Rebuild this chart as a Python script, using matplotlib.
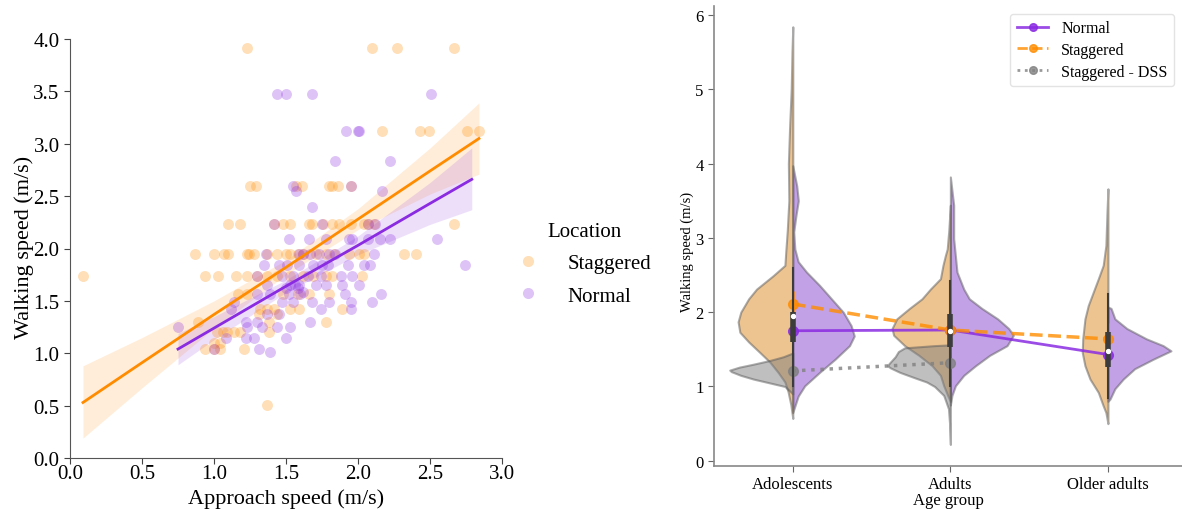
import numpy as np
import matplotlib.pyplot as plt
from matplotlib.lines import Line2D

plt.rcParams['font.family'] = ['Liberation Serif', 'DejaVu Serif']

# ---- left panel: approach speed vs walking speed ----
stag_x = [1.23, 2.10, 2.27, 2.67,
          2.17, 2.43, 2.49, 2.76, 2.84,
          1.25, 1.29, 1.57, 1.61, 1.80, 1.82, 1.86, 1.95,
          1.10, 1.18, 1.42, 1.48, 1.53, 1.66, 1.68, 1.76, 1.82, 1.87, 1.95, 2.04, 2.07, 2.11, 2.67,
          0.87, 1.00, 1.07, 1.10, 1.23, 1.24, 1.28, 1.37, 1.44, 1.50, 1.53, 1.58, 1.62, 1.71, 1.78,
          1.83, 1.94, 2.01, 2.04, 2.32, 2.40,
          0.09, 0.94, 1.03, 1.15, 1.23, 1.30, 1.37, 1.44, 1.53, 1.62, 1.69, 1.78, 1.82, 2.03,
          1.17, 1.23, 1.48, 1.58, 1.66, 1.80,
          1.32, 1.37, 1.42, 1.53, 1.59, 1.89,
          1.31, 1.44,
          0.89, 1.38, 1.78,
          1.02, 1.06, 1.09, 1.14, 1.18, 1.38,
          1.00, 1.04,
          0.94, 1.00, 1.04, 1.21,
          1.37]
stag_y = [3.91, 3.91, 3.91, 3.91,
          3.12, 3.12, 3.12, 3.12, 3.12,
          2.60, 2.60, 2.60, 2.60, 2.60, 2.60, 2.60, 2.60,
          2.23, 2.23, 2.23, 2.23, 2.23, 2.23, 2.23, 2.23, 2.23, 2.23, 2.23, 2.23, 2.23, 2.23, 2.23,
          1.95, 1.95, 1.95, 1.95, 1.95, 1.95, 1.95, 1.95, 1.95, 1.95, 1.95, 1.95, 1.95, 1.95, 1.95,
          1.95, 1.95, 1.95, 1.95, 1.95, 1.95,
          1.74, 1.74, 1.74, 1.74, 1.74, 1.74, 1.74, 1.74, 1.74, 1.74, 1.74, 1.74, 1.74, 1.74,
          1.57, 1.57, 1.57, 1.57, 1.57, 1.57,
          1.42, 1.42, 1.42, 1.42, 1.42, 1.42,
          1.375, 1.375,
          1.30, 1.30, 1.30,
          1.20, 1.20, 1.20, 1.20, 1.20, 1.20,
          1.10, 1.10,
          1.04, 1.04, 1.04, 1.04,
          0.51]

norm_x = [1.44, 1.50, 1.68, 2.51,
          1.92, 2.00, 2.01,
          1.84, 2.22,
          1.55, 1.95,
          1.57, 2.17,
          1.68,
          1.42, 1.75, 2.07, 2.12,
          1.52, 1.66, 1.78, 1.94, 1.96, 2.07, 2.15, 2.22, 2.55,
          1.36, 1.59, 1.62, 1.67, 1.73, 1.80, 1.84, 2.11,
          1.35, 1.45, 1.51, 1.59, 1.69, 1.75, 1.79, 1.93, 2.04, 2.08, 2.74,
          1.30, 1.47, 1.55, 1.65, 1.74, 1.88, 1.96,
          1.37, 1.53, 1.56, 1.59, 1.71, 1.78, 1.89, 2.01, 1.50, 1.58,
          1.30, 1.39, 1.52, 1.60, 1.91, 2.16, 1.62,
          1.14, 1.47, 1.55, 1.68, 1.80, 1.95, 2.10,
          1.12, 1.74, 1.95,
          1.37, 1.45,
          1.22, 1.30, 1.67,
          0.75, 1.23, 1.33, 1.44, 1.53,
          1.08, 1.22, 1.28, 1.50,
          1.00, 1.31,
          1.39]
norm_y = [3.475, 3.475, 3.475, 3.475,
          3.12, 3.12, 3.12,
          2.84, 2.84,
          2.60, 2.60,
          2.55, 2.55,
          2.40,
          2.23, 2.23, 2.23, 2.23,
          2.09, 2.09, 2.09, 2.09, 2.09, 2.09, 2.09, 2.09, 2.09,
          1.95, 1.95, 1.95, 1.95, 1.95, 1.95, 1.95, 1.95,
          1.84, 1.84, 1.84, 1.84, 1.84, 1.84, 1.84, 1.84, 1.84, 1.84, 1.84,
          1.74, 1.74, 1.74, 1.74, 1.74, 1.74, 1.74,
          1.65, 1.65, 1.65, 1.65, 1.65, 1.65, 1.65, 1.65, 1.62, 1.62,
          1.57, 1.57, 1.57, 1.57, 1.57, 1.57, 1.58,
          1.49, 1.49, 1.49, 1.49, 1.49, 1.49, 1.49,
          1.42, 1.42, 1.42,
          1.375, 1.375,
          1.30, 1.30, 1.30,
          1.25, 1.25, 1.25, 1.25, 1.25,
          1.15, 1.15, 1.15, 1.15,
          1.04, 1.04,
          1.01]

# fitted lines and confidence bands
stag_band_x = [0.09, 0.5, 1.0, 1.5, 2.0, 2.5, 2.84]
stag_fit_y = [0.53, 0.91, 1.37, 1.82, 2.28, 2.74, 3.05]
stag_band_lo = [0.19, 0.67, 1.24, 1.75, 2.18, 2.52, 2.71]
stag_band_hi = [0.88, 1.15, 1.50, 1.89, 2.38, 2.96, 3.39]
norm_band_x = [0.75, 1.0, 1.5, 2.0, 2.5, 2.79]
norm_fit_y = [1.04, 1.24, 1.64, 2.03, 2.43, 2.66]
norm_band_lo = [0.89, 1.13, 1.58, 1.94, 2.23, 2.37]
norm_band_hi = [1.19, 1.35, 1.70, 2.12, 2.63, 2.96]

# ---- right panel: split violins ----
groups = ['Adolescents', 'Adults', 'Older adults']

adol_stag_y = [0.57, 0.75, 0.93, 1.06, 1.19, 1.33, 1.46, 1.60, 1.73, 1.87, 2.00, 2.18, 2.31, 2.49,
               2.63, 2.80, 3.10, 3.50, 4.00, 4.50, 5.00, 5.50, 5.84]
adol_stag_w = [0.0, 0.012, 0.03, 0.05, 0.093, 0.146, 0.21, 0.28, 0.336, 0.347, 0.33, 0.28, 0.23, 0.125,
               0.05, 0.045, 0.035, 0.025, 0.028, 0.02, 0.01, 0.005, 0.0]
adol_norm_y = [0.65, 0.87, 1.01, 1.19, 1.37, 1.55, 1.68, 1.82, 2.00, 2.18, 2.36, 2.54, 2.68, 2.85,
               3.08, 3.30, 3.50, 3.70, 3.97]
adol_norm_w = [0.0, 0.034, 0.076, 0.17, 0.27, 0.36, 0.39, 0.37, 0.32, 0.245, 0.17, 0.087, 0.034, 0.013,
               0.006, 0.02, 0.035, 0.025, 0.0]
adol_dss_y = [0.90, 1.00, 1.05, 1.10, 1.15, 1.20, 1.22, 1.26, 1.30, 1.35, 1.40, 1.45]
adol_dss_w = [0.0, 0.05, 0.15, 0.25, 0.33, 0.39, 0.40, 0.34, 0.25, 0.146, 0.06, 0.0]

adul_stag_y = [0.80, 0.88, 1.01, 1.15, 1.28, 1.42, 1.55, 1.69, 1.78, 1.91, 2.05, 2.18, 2.31, 2.45,
               2.63, 2.76, 2.85, 3.10, 3.44]
adul_stag_w = [0.0, 0.017, 0.042, 0.063, 0.116, 0.20, 0.29, 0.36, 0.37, 0.34, 0.26, 0.18, 0.127, 0.063,
               0.047, 0.032, 0.02, 0.01, 0.0]
adul_norm_y = [0.75, 0.88, 1.01, 1.15, 1.28, 1.42, 1.55, 1.69, 1.78, 1.91, 2.05, 2.18, 2.31, 2.54,
               2.99, 3.44, 3.82]
adul_norm_w = [0.0, 0.01, 0.032, 0.085, 0.16, 0.25, 0.36, 0.40, 0.37, 0.30, 0.20, 0.12, 0.085, 0.042,
               0.021, 0.021, 0.0]
adul_dss_y = [0.22, 0.50, 0.70, 0.88, 1.00, 1.06, 1.12, 1.19, 1.25, 1.28, 1.33, 1.40, 1.47, 1.52, 1.55, 1.56]
adul_dss_w = [0.0, 0.005, 0.012, 0.042, 0.10, 0.15, 0.23, 0.32, 0.38, 0.40, 0.38, 0.35, 0.33, 0.29, 0.1, 0.0]

old_stag_y = [0.50, 0.65, 0.74, 0.92, 1.10, 1.28, 1.46, 1.64, 1.91, 2.09, 2.27, 2.45, 2.63, 2.90, 3.35, 3.66]
old_stag_w = [0.0, 0.013, 0.03, 0.061, 0.114, 0.146, 0.163, 0.16, 0.146, 0.125, 0.093, 0.061, 0.03,
              0.013, 0.006, 0.0]
old_norm_y = [0.80, 0.83, 0.97, 1.10, 1.24, 1.37, 1.48, 1.55, 1.64, 1.78, 1.91, 2.05, 2.07]
old_norm_w = [0.0, 0.013, 0.044, 0.097, 0.17, 0.29, 0.40, 0.35, 0.245, 0.12, 0.044, 0.02, 0.0]

# inner boxes
box_q1 = [1.60, 1.53, 1.26]
box_q3 = [2.00, 1.98, 1.73]
box_med = [1.95, 1.74, 1.48]
whisk_lo = [1.00, 1.00, 0.85]
whisk_hi = [2.60, 2.42, 2.25]

# point plot means and error bars
norm_mean = [1.75, 1.76, 1.43]
norm_err_lo = [1.70, 1.72, 1.38]
norm_err_hi = [1.80, 1.80, 1.48]
stag_mean = [2.11, 1.76, 1.64]
stag_err_lo = [1.98, 1.70, 1.45]
stag_err_hi = [2.28, 1.84, 1.85]
dss_mean = [1.21, 1.32]
dss_err_lo = [1.15, 1.25]
dss_err_hi = [1.28, 1.38]

ORANGE = '#FF8C00'
PURPLE = '#8A2BE2'
GREY = '#808080'

fig = plt.figure(figsize=(11.82, 5.10), dpi=100)
ax1 = fig.add_axes([70/1182, 1-459/510, 432/1182, 419/510])
ax2 = fig.add_axes([714/1182, 1-467/510, 468/1182, 460/510])

# left panel
ax1.scatter(stag_x, stag_y, s=62, color=ORANGE, alpha=0.28, lw=0, zorder=2)
ax1.scatter(norm_x, norm_y, s=62, color=PURPLE, alpha=0.28, lw=0, zorder=2)
ax1.fill_between(stag_band_x, stag_band_lo, stag_band_hi, color=ORANGE, alpha=0.15, lw=0, zorder=1)
ax1.fill_between(norm_band_x, norm_band_lo, norm_band_hi, color=PURPLE, alpha=0.15, lw=0, zorder=1)
ax1.plot(stag_band_x, stag_fit_y, color=ORANGE, lw=2, zorder=3)
ax1.plot(norm_band_x, norm_fit_y, color=PURPLE, lw=2, zorder=3)

ax1.set_xlim(0, 3)
ax1.set_ylim(0, 4)
ax1.set_xticks(np.arange(0, 3.01, 0.5))
ax1.set_yticks(np.arange(0, 4.01, 0.5))
ax1.xaxis.set_major_formatter(plt.FormatStrFormatter('%.1f'))
ax1.yaxis.set_major_formatter(plt.FormatStrFormatter('%.1f'))
ax1.tick_params(labelsize=15, length=4, color='#444444')
ax1.tick_params(axis='x', pad=0)
ax1.set_xlabel('Approach speed (m/s)', fontsize=16, labelpad=4)
ax1.set_ylabel('Walking speed (m/s)', fontsize=16)
ax1.yaxis.set_label_coords(-0.083, 0.504)
for s in ['top', 'right']:
    ax1.spines[s].set_visible(False)
for s in ['left', 'bottom']:
    ax1.spines[s].set_color('#555555')

h1 = [Line2D([], [], ls='', marker='o', ms=8, color=ORANGE, alpha=0.28, mew=0),
      Line2D([], [], ls='', marker='o', ms=8, color=PURPLE, alpha=0.28, mew=0)]
fig.legend(h1, ['Staggered', 'Normal'], title='Location', loc='center left',
           bbox_to_anchor=(499/1182, 1-265/510), frameon=False, fontsize=15,
           title_fontsize=15, handlelength=1.0, handletextpad=1.4, labelspacing=0.6)

# right panel
violins = [
    (0, adol_stag_y, adol_stag_w, -1, ORANGE),
    (0, adol_norm_y, adol_norm_w, 1, PURPLE),
    (0, adol_dss_y, adol_dss_w, -1, GREY),
    (1, adul_stag_y, adul_stag_w, -1, ORANGE),
    (1, adul_norm_y, adul_norm_w, 1, PURPLE),
    (1, adul_dss_y, adul_dss_w, -1, GREY),
    (2, old_stag_y, old_stag_w, -1, ORANGE),
    (2, old_norm_y, old_norm_w, 1, PURPLE),
]
fills = {ORANGE: '#DC8A22', PURPLE: '#8845D0', GREY: '#808080'}
for c, vy, vw, side, col in violins:
    xs = [c + side * w for w in vw]
    ax2.fill_betweenx(vy, c, xs, facecolor=fills[col], alpha=0.5,
                      edgecolor='#5a5a5a', lw=1.5, zorder=1)

for i in range(3):
    ax2.plot([i, i], [whisk_lo[i], whisk_hi[i]], color='#3c3c3c', lw=1.5, zorder=4)
    ax2.plot([i, i], [box_q1[i], box_q3[i]], color='#3c3c3c', lw=4, solid_capstyle='butt', zorder=4)
    ax2.scatter([i], [box_med[i]], s=8, color='white', zorder=5)

xpos = np.arange(len(groups))
ax2.vlines(xpos, norm_err_lo, norm_err_hi, color=PURPLE, lw=2, alpha=0.8, zorder=3)
ax2.vlines(xpos, stag_err_lo, stag_err_hi, color=ORANGE, lw=2, alpha=0.8, zorder=3)
ax2.vlines(xpos[:2], dss_err_lo, dss_err_hi, color=GREY, lw=2, alpha=0.8, zorder=3)
ax2.plot(xpos, norm_mean, color=PURPLE, lw=2, marker='o', ms=7, alpha=0.85, zorder=3)
ax2.plot(xpos, stag_mean, color=ORANGE, lw=2.5, ls='--', marker='o', ms=7, alpha=0.8, zorder=3)
ax2.plot(xpos[:2], dss_mean, color=GREY, lw=2.5, ls=':', marker='o', ms=7, alpha=0.8, zorder=3)

ax2.set_xlim(-0.5, 2.47)
ax2.set_ylim(-0.07, 6.12)
ax2.set_xticks(xpos)
ax2.set_xticklabels(groups)
ax2.set_yticks(range(7))
ax2.tick_params(labelsize=12, length=4, color='#666666')
ax2.set_xlabel('Age group', fontsize=12, labelpad=0)
ax2.set_ylabel('Walking speed (m/s)', fontsize=10.5)
ax2.yaxis.set_label_coords(-0.043, 0.467)
for s in ['top', 'right']:
    ax2.spines[s].set_visible(False)
for s in ['left', 'bottom']:
    ax2.spines[s].set_color('#888888')
    ax2.spines[s].set_linewidth(1.2)

h2 = [Line2D([], [], color=PURPLE, lw=2, marker='o', ms=5.5, alpha=0.85),
      Line2D([], [], color=ORANGE, lw=2, ls='--', marker='o', ms=5.5, alpha=0.8),
      Line2D([], [], color=GREY, lw=2, ls=':', marker='o', ms=5.5, alpha=0.8)]
ax2.legend(h2, ['Normal', 'Staggered', 'Staggered - DSS'], loc='upper right', fontsize=11.5,
           edgecolor='#dddddd', handlelength=2.0, labelspacing=0.35)

plt.savefig('out.png', dpi=100)
